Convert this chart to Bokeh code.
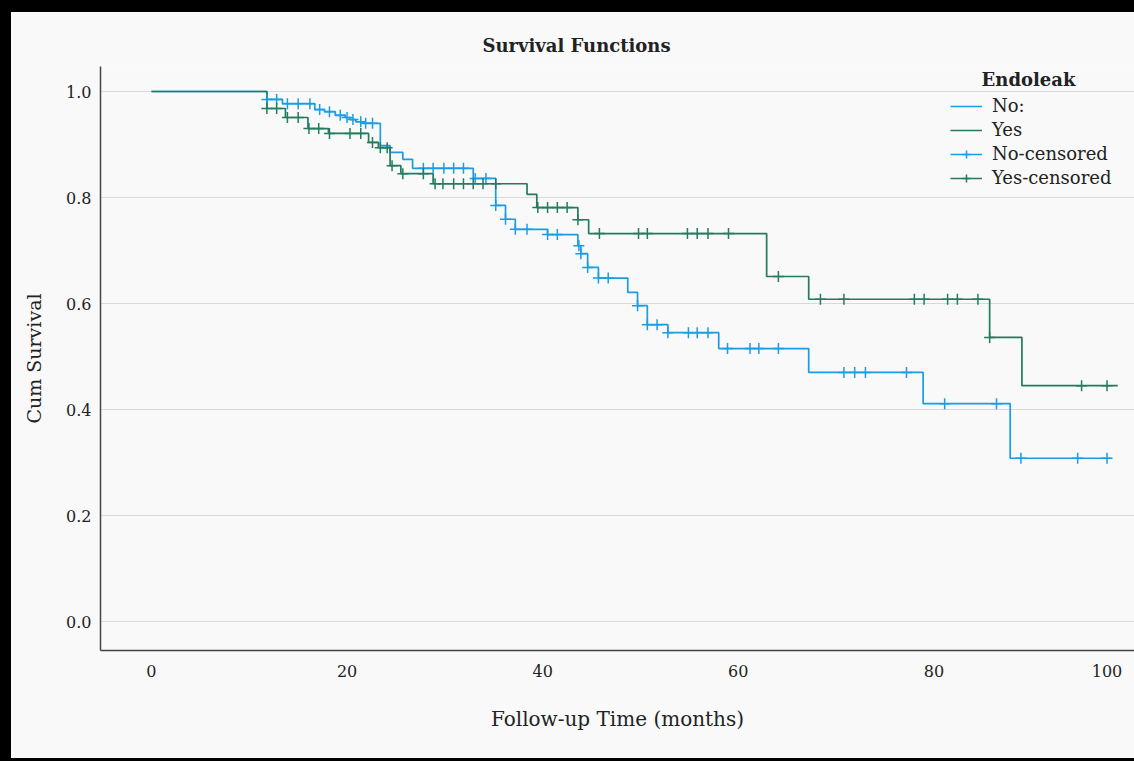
import numpy as np
from bokeh.plotting import figure
from bokeh.layouts import column, row
from bokeh.models import (Range1d, FixedTicker, Legend, LegendItem, Label, ColumnDataSource,
                          Spacer)
from bokeh.embed import file_html
from bokeh.resources import INLINE

# ---- data (months, cumulative survival) ----
no_time = [0, 11.8, 13.4, 16.7, 17.7, 18.8, 19.8, 20.3, 20.9, 21.6, 23.4, 24.4, 25.7, 26.7,
           32.9, 35.2, 36.2, 37.2, 40.5, 43.6, 43.9, 44.6, 45.7, 48.7, 49.7, 50.7, 52.8,
           58.0, 67.2, 78.9, 87.8, 98.1]
no_surv = [1.0, 0.985, 0.977, 0.966, 0.962, 0.955, 0.951, 0.947, 0.943, 0.940, 0.898, 0.885,
           0.872, 0.855, 0.836, 0.785, 0.759, 0.740, 0.730, 0.709, 0.694, 0.668, 0.648, 0.621,
           0.596, 0.560, 0.545, 0.515, 0.470, 0.411, 0.308, 0.308]
no_censored = [11.8, 12.8, 13.9, 15.0, 16.2, 17.2, 18.2, 19.3, 20.0, 20.6, 21.4, 21.9, 22.6,
               27.8, 28.8, 29.9, 30.9, 31.9, 33.1, 34.2, 35.2, 36.2, 37.2, 38.4, 40.5, 41.5,
               43.7, 43.9, 44.6, 45.7, 46.7, 49.7, 50.7, 51.7, 52.8, 54.9, 55.8, 56.9,
               58.9, 61.2, 62.1, 64.1, 70.8, 71.9, 73.0, 77.2, 81.1, 86.4, 88.9, 94.7, 97.7]

yes_time = [0, 11.8, 13.7, 16.0, 18.1, 22.2, 23.2, 24.4, 25.5, 28.8, 38.4, 39.4, 43.6, 44.7,
            62.9, 67.2, 85.7, 89.0, 98.8]
yes_surv = [1.0, 0.968, 0.951, 0.930, 0.921, 0.904, 0.894, 0.860, 0.845, 0.826, 0.806, 0.781,
            0.758, 0.732, 0.651, 0.608, 0.536, 0.445, 0.445]
yes_censored = [11.8, 12.8, 13.9, 15.0, 16.1, 17.1, 18.2, 20.3, 21.4, 22.6, 23.4, 24.1, 24.6,
                25.7, 27.8, 29.0, 29.8, 30.9, 31.9, 32.9, 33.9, 35.2, 39.5, 40.5, 41.5, 42.5,
                43.6, 45.8, 49.8, 50.7, 54.8, 55.8, 56.9, 59.0, 64.1, 68.4, 70.8, 78.0, 79.0,
                81.4, 82.4, 84.5, 85.7, 95.1, 97.7]

x_ticks = [0, 20, 40, 60, 80, 97.7]
x_tick_labels = ["0", "20", "40", "60", "80", "100"]
y_ticks = [0.0, 0.2, 0.4, 0.6, 0.8, 1.0]

group_labels = ["No:", "Yes", "No-censored", "Yes-censored"]
legend_title = "Endoleak"

BLUE = "#1a9de6"
GREEN = "#237b60"
FONT = "DejaVu Serif"
TXT = "#222222"


def surv_at(times, surv, t):
    idx = np.searchsorted(np.array(times), np.array(t), side="right") - 1
    return list(np.array(surv)[idx])


p = figure(width=1123, height=746, output_backend="svg", toolbar_location=None,
           x_range=Range1d(-5.21, 100.51), y_range=Range1d(-0.0547, 1.0472),
           min_border_left=89, min_border_right=0, min_border_top=54, min_border_bottom=108,
           background_fill_color="#f9f9f9", border_fill_color="#f9f9f9",
           outline_line_color=None)

# title
p.title.text = "Survival Functions"
p.title.align = "left"
p.title.offset = 382
p.title.text_font = FONT
p.title.text_font_size = "18px"
p.title.text_font_style = "bold"
p.title.text_color = TXT
p.title.standoff = 22

# axes
for ax in (p.xaxis[0], p.yaxis[0]):
    ax.axis_line_color = "#444444"
    ax.axis_line_width = 1.5
    ax.major_tick_line_color = None
    ax.minor_tick_line_color = None
    ax.major_label_text_font = FONT
    ax.major_label_text_font_size = "16px"
    ax.major_label_text_color = TXT
    ax.axis_label_text_font = FONT
    ax.axis_label_text_font_style = "normal"
    ax.axis_label_text_color = TXT

p.xaxis.axis_label = "Follow-up Time (months)"
p.xaxis.axis_label_text_font_size = "20px"
p.xaxis.ticker = FixedTicker(ticks=x_ticks)
p.xaxis.major_label_overrides = {t: l for t, l in zip(x_ticks, x_tick_labels)}
p.xaxis.major_label_standoff = 8
p.xaxis.axis_label_standoff = 27

p.yaxis.axis_label = "Cum Survival"
p.yaxis.axis_label_text_font_size = "19px"
p.yaxis.ticker = FixedTicker(ticks=y_ticks)
p.yaxis.major_label_overrides = {t: f"{t:.1f}" for t in y_ticks}
p.yaxis.major_label_standoff = 3
p.yaxis.axis_label_standoff = 18

p.xgrid.grid_line_color = None
p.ygrid.grid_line_color = "#d9d9d9"
p.ygrid.grid_line_width = 1.2

# curves
r_no = p.step(no_time, no_surv, mode="after", line_color=BLUE, line_width=1.7)
r_yes = p.step(yes_time, yes_surv, mode="after", line_color=GREEN, line_width=1.7)

no_c = ColumnDataSource(dict(x=no_censored, y=surv_at(no_time, no_surv, no_censored)))
yes_c = ColumnDataSource(dict(x=yes_censored, y=surv_at(yes_time, yes_surv, yes_censored)))
r_no_c = p.scatter("x", "y", source=no_c, marker="cross", size=11, line_color=BLUE, line_width=1.5)
r_yes_c = p.scatter("x", "y", source=yes_c, marker="cross", size=11, line_color=GREEN, line_width=1.5)

legend = Legend(items=[
    LegendItem(label=group_labels[0], renderers=[r_no]),
    LegendItem(label=group_labels[1], renderers=[r_yes]),
    LegendItem(label=group_labels[2], renderers=[r_no, r_no_c]),
    LegendItem(label=group_labels[3], renderers=[r_yes, r_yes_c]),
], location=(850, 462), orientation="vertical",
    glyph_width=32, glyph_height=20, label_height=20, spacing=3,
    label_standoff=10, padding=0, margin=0,
    border_line_color=None, background_fill_alpha=0,
    label_text_font=FONT, label_text_font_size="18px", label_text_color=TXT)
p.add_layout(legend)

p.add_layout(Label(x=928, y=571, x_units="screen", y_units="screen", text=legend_title,
                   text_font=FONT, text_font_size="18px", text_font_style="bold",
                   text_color=TXT, text_align="center", text_baseline="middle"))

# black picture frame around the chart (left, top and bottom edges)
black = {"background-color": "black"}
page = column(
    Spacer(width=1134, height=12, styles=black),
    row(Spacer(width=11, height=746, styles=black), p, spacing=0),
    Spacer(width=1134, height=3, styles=black),
    spacing=0,
)

open("out.html", "w").write(file_html(page, INLINE))
